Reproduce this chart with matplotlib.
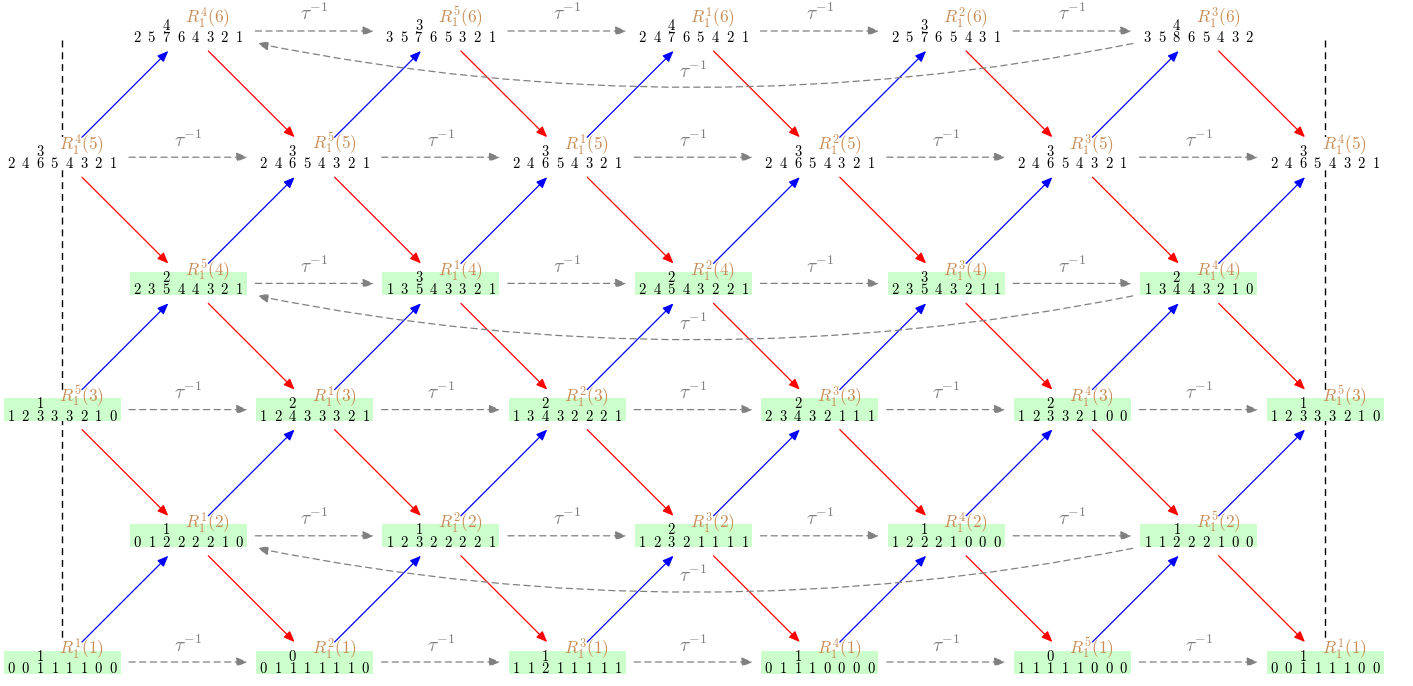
import matplotlib.pyplot as plt
from matplotlib.patches import FancyArrowPatch, Rectangle

plt.rcParams['mathtext.fontset'] = 'cm'

# nodes per row, rows counted from bottom (1) to top (6)
# even rows sit on odd columns (1,3,...,9), odd rows on even columns (0,2,...,10)
row6_top = [4, 3, 4, 3, 4]
row6_dim = ["25764321", "35765321", "24765421", "25765431", "35865432"]
row6_idx = [4, 5, 1, 2, 3]

row5_top = [3, 3, 3, 3, 3, 3]
row5_dim = ["24654321"] * 6
row5_idx = [4, 5, 1, 2, 3, 4]

row4_top = [2, 3, 2, 3, 2]
row4_dim = ["23544321", "13543321", "24543221", "23543211", "13443210"]
row4_idx = [5, 1, 2, 3, 4]

row3_top = [1, 2, 2, 2, 2, 1]
row3_dim = ["12333210", "12433321", "13432221", "23432111", "12332100", "12333210"]
row3_idx = [5, 1, 2, 3, 4, 5]

row2_top = [1, 1, 2, 1, 1]
row2_dim = ["01222210", "12322221", "12321111", "12221000", "11222100"]
row2_idx = [1, 2, 3, 4, 5]

row1_top = [1, 0, 1, 1, 0, 1]
row1_dim = ["00111100", "01111110", "11211111", "01110000", "11111000", "00111100"]
row1_idx = [1, 2, 3, 4, 5, 1]

rows = {
    6: (row6_top, row6_dim, row6_idx),
    5: (row5_top, row5_dim, row5_idx),
    4: (row4_top, row4_dim, row4_idx),
    3: (row3_top, row3_dim, row3_idx),
    2: (row2_top, row2_dim, row2_idx),
    1: (row1_top, row1_dim, row1_idx),
}
filled_rows = [1, 2, 3, 4]

# layout (pixel units)
x0, dx = 62, 126.3
y_top, dy = 31, 126.2
pitch = 14.6
box_w, box_h = 117, 23
green = "#ccffcc"
label_col = "#c98d56"
grey = "#808080"

fig = plt.figure(figsize=(14.13, 6.86), dpi=100)
ax = fig.add_axes([0, 0, 1, 1])
ax.set_xlim(0, 1413)
ax.set_ylim(686, 0)
ax.axis("off")

pos = {}
for r, (tops, dims, idxs) in rows.items():
    start = 1 if r % 2 == 0 else 0
    for k in range(len(tops)):
        c = start + 2 * k
        pos[(r, c)] = (x0 + c * dx, y_top + (6 - r) * dy)


def arrow(p, q, color, ls="-", conn="arc3,rad=0", z=6):
    a = FancyArrowPatch(p, q, arrowstyle="-|>,head_length=0.65,head_width=0.27",
                        mutation_scale=10, color=color, lw=0.9, linestyle=ls,
                        shrinkA=0, shrinkB=0, connectionstyle=conn, zorder=z)
    ax.add_patch(a)


# vertical dashed lines
for c in (0, 10):
    ax.plot([x0 + c * dx] * 2, [40, 643], color="black", lw=1,
            dashes=(5, 3.5), zorder=1)

# nodes
for r, (tops, dims, idxs) in rows.items():
    start = 1 if r % 2 == 0 else 0
    for k in range(len(tops)):
        x, y = pos[(r, start + 2 * k)]
        fc = green if r in filled_rows else "white"
        ax.add_patch(Rectangle((x - box_w / 2, y - box_h / 2), box_w, box_h,
                               facecolor=fc, edgecolor="none", zorder=3))
        ax.add_patch(Rectangle((x - 4, y - 20), 48, 12, facecolor="white",
                               edgecolor="none", zorder=2))
        ax.text(x + (2 - 3.5) * pitch, y - 1.4, "$%d$" % tops[k], ha="center",
                va="baseline", fontsize=10.5, zorder=4)
        for i, d in enumerate(dims[k]):
            ax.text(x + (i - 3.5) * pitch, y + 11, "$%s$" % d, ha="center",
                    va="baseline", fontsize=10.5, zorder=4)
        ax.text(x - 3, y - 8, r"$R_1^{%d}(%d)$" % (idxs[k], r), ha="left",
                va="baseline", fontsize=12.5, color=label_col, zorder=5)

# blue (up-right) and red (down-right) arrows
for (r, c), (x, y) in pos.items():
    if (r + 1, c + 1) in pos:
        x2, y2 = pos[(r + 1, c + 1)]
        arrow((x + 20, y - 20), (x2 - 20, y2 + 20), "blue")
    if (r - 1, c + 1) in pos:
        x2, y2 = pos[(r - 1, c + 1)]
        arrow((x + 20, y + 20), (x2 - 20, y2 - 20), "red")

# tau^{-1} arrows
for (r, c), (x, y) in pos.items():
    if (r, c + 2) in pos:
        x2, _ = pos[(r, c + 2)]
        arrow((x + 67, y), (x2 - 67, y), grey, ls=(0, (5, 3.5)))
        ax.text((x + x2) / 2, y - 10.5, r"$\tau^{-1}$", ha="center",
                va="baseline", fontsize=14, color=grey, zorder=5)

for r in (6, 4, 2):
    xa, y = pos[(r, 9)]
    xb, _ = pos[(r, 1)]
    arrow((xa - 66, y + 12.5), (xb + 69, y + 12.5), grey, ls=(0, (5, 3.5)),
          conn="arc3,rad=-0.1")
    ax.text((xa + xb) / 2, y + 12.5 + 44 - 10, r"$\tau^{-1}$", ha="center",
            va="baseline", fontsize=14, color=grey, zorder=5)

fig.savefig("out.png", dpi=100)
